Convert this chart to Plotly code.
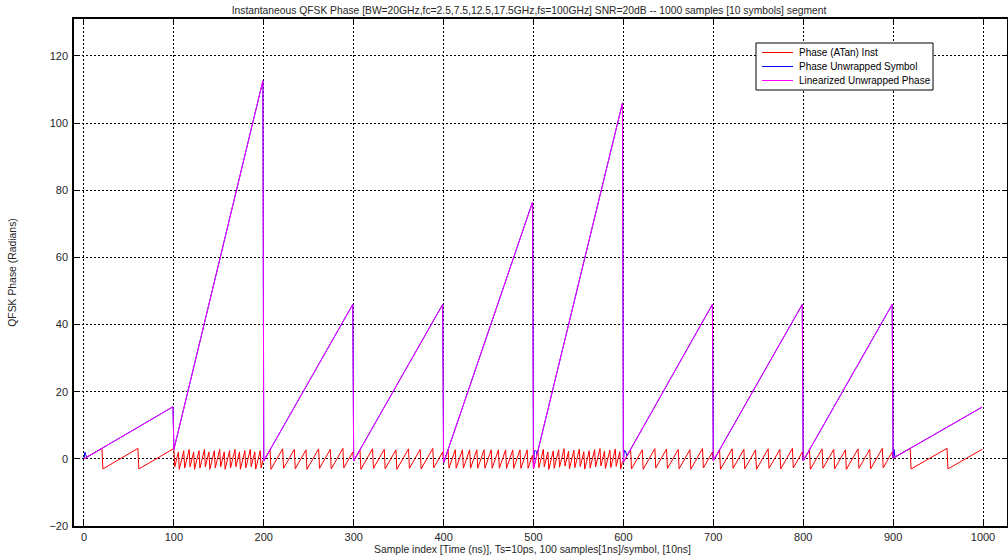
import numpy as np
import plotly.graph_objects as go

# ---------------- data ----------------
SAMPLES_PER_SYMBOL = 100
SYMBOL_FC_GHZ = [2.5, 17.5, 7.5, 7.5, 12.5, 17.5, 7.5, 7.5, 7.5, 2.5]
# unwrapped (linearized) phase at first and last sample of each symbol [rad]
SYMBOL_START = [0.0, 2.8, -0.6, -0.6, -1.2, -3.0, -1.0, -0.6, -0.6, 0.2]
SYMBOL_END = [15.5, 112.6, 46.0, 46.0, 76.5, 106.0, 46.0, 46.0, 46.0, 15.4]
# small transients of the symbol-unwrapped phase at symbol starts
BLUE_HOOK_N = [1, 2, 501, 502, 503, 601, 602, 603, 901, 902]
BLUE_HOOK_VAL = [2.0, 1.2, 2.4, 2.5, 2.3, 2.5, 2.4, 1.6, 2.8, 0.6]

X_TICKS = [0, 100, 200, 300, 400, 500, 600, 700, 800, 900, 1000]
Y_TICKS = [-20, 0, 20, 40, 60, 80, 100, 120]

SERIES_NAMES = ["Phase (ATan) Inst", "Phase Unwrapped Symbol", "Linearized Unwrapped Phase"]
SERIES_COLORS = ["#ff0000", "#0000ff", "#ff00ff"]

# ---------------- build the series ----------------
n_idx = []
lin_phase = []
for k, (s, e) in enumerate(zip(SYMBOL_START, SYMBOL_END)):
    i = np.arange(SAMPLES_PER_SYMBOL)
    n_idx.append(k * SAMPLES_PER_SYMBOL + i)
    lin_phase.append(s + (e - s) * i / (SAMPLES_PER_SYMBOL - 1))
n_idx = np.concatenate(n_idx)
lin_phase = np.concatenate(lin_phase)

sym_phase = lin_phase.copy()
for n, v in zip(BLUE_HOOK_N, BLUE_HOOK_VAL):
    sym_phase[n] = v

inst_phase = np.angle(np.exp(1j * lin_phase))  # atan of instantaneous sample

FONT = "Liberation Sans, Arial, Helvetica, sans-serif"
TXT = "#262626"

fig = go.Figure()
for y, name, col in zip([inst_phase, sym_phase, lin_phase], SERIES_NAMES, SERIES_COLORS):
    fig.add_trace(go.Scatter(x=n_idx, y=y, mode="lines",
                             line=dict(color=col, width=1), name=name,
                             showlegend=False))

# plot-area geometry in pixels
W, H = 1008, 560
L, R, T, B = 74, 1, 19, 34
PW, PH = W - L - R, H - T - B


def px(xp):
    return (xp - L) / PW


def py(yp):
    return 1 - (yp - T) / PH


# legend drawn as a box with line samples and text
shapes = [dict(type="rect", xref="paper", yref="paper",
               x0=px(756), x1=px(933), y0=py(90), y1=py(43),
               line=dict(color="black", width=1), fillcolor="white", layer="above")]
annotations = []
row_y = [52.5, 66.5, 80.5]
for ry, name, col in zip(row_y, SERIES_NAMES, SERIES_COLORS):
    shapes.append(dict(type="line", xref="paper", yref="paper",
                       x0=px(762), x1=px(793), y0=py(ry), y1=py(ry),
                       line=dict(color=col, width=1), layer="above"))
    annotations.append(dict(text=name, xref="paper", yref="paper",
                            x=px(797), y=py(ry), xanchor="left", yanchor="middle",
                            showarrow=False, font=dict(family=FONT, size=10, color="black")))

annotations.append(dict(text="Sample index [Time (ns)], Ts=10ps, 100 samples[1ns]/symbol, [10ns]",
                        xref="paper", yref="paper", x=px(532), y=py(549),
                        xanchor="center", yanchor="middle", showarrow=False,
                        font=dict(family=FONT, size=10.4, color=TXT)))

axis_common = dict(
    showline=True, linecolor="black", linewidth=1.5, mirror="ticks",
    ticks="inside", ticklen=5, tickcolor="black",
    showgrid=True, gridcolor="black", griddash="2px,2px", gridwidth=1,
    zeroline=False, tickfont=dict(family=FONT, size=11, color=TXT),
)

fig.update_layout(
    width=W, height=H,
    margin=dict(l=L, r=R, t=T, b=B, autoexpand=False),
    paper_bgcolor="white", plot_bgcolor="white",
    font=dict(family=FONT, size=10, color=TXT),
    title=dict(text="Instantaneous QFSK Phase [BW=20GHz,fc=2.5,7.5,12.5,17.5GHz,fs=100GHz] SNR=20dB -- 1000 samples [10 symbols] segment",
               font=dict(family=FONT, size=10.3, color=TXT),
               x=529 / W, xanchor="center", xref="container",
               y=1 - 10 / H, yref="container", yanchor="middle"),
    xaxis=dict(range=[-11.1, 1026.7], tickvals=X_TICKS, **axis_common),
    yaxis=dict(range=[-20, 131], tickvals=Y_TICKS, ticklabelstandoff=2,
               title=dict(text="QFSK Phase (Radians)",
                          font=dict(family=FONT, size=10.4, color=TXT), standoff=31),
               **axis_common),
    shapes=shapes,
    annotations=annotations,
    showlegend=False,
)

fig.write_html("out.html", config={"displayModeBar": False},
               post_script="document.body.style.margin='0px';")
